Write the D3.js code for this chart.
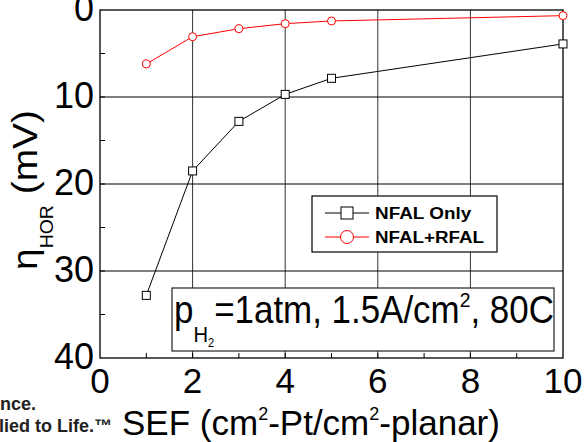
<!DOCTYPE html>
<html><head><meta charset="utf-8">
<script src="https://cdn.jsdelivr.net/npm/d3@7"></script>
<style>body{margin:0;background:#fff}svg{display:block}text{font-family:"Liberation Sans",Arial,sans-serif}</style>
</head><body>
<svg id="c" width="585" height="442"></svg>
<script>
const sefValues = [1, 2, 3, 4, 5, 10];
const nfalOnly = [32.8, 18.5, 12.8, 9.7, 7.85, 3.9];
const nfalRfal = [6.2, 3.07, 2.15, 1.57, 1.26, 0.65];
const xTicks = [0, 2, 4, 6, 8, 10];
const yTicks = [0, 10, 20, 30, 40];
const seriesNames = ["NFAL Only", "NFAL+RFAL"];

const svg = d3.select("#c");
const x = d3.scaleLinear().domain([0, 10]).range([100, 563]);
const y = d3.scaleLinear().domain([0, 40]).range([10, 358]);

// grid
svg.append("g").selectAll("line").data([2,4,6,8]).join("line")
  .attr("x1", d=>x(d)).attr("x2", d=>x(d)).attr("y1", y(0)).attr("y2", y(40))
  .attr("stroke", "#333").attr("stroke-width", 1);
svg.append("g").selectAll("line").data([10,20,30]).join("line")
  .attr("x1", x(0)).attr("x2", x(10)).attr("y1", d=>y(d)).attr("y2", d=>y(d))
  .attr("stroke", "#000").attr("stroke-width", 1);

// minor ticks
svg.append("g").selectAll("line").data(d3.range(1,10,1)).join("line")
  .attr("x1", d=>x(d)).attr("x2", d=>x(d)).attr("y1", y(40)).attr("y2", y(40)-5)
  .attr("stroke", "#000");
svg.append("g").selectAll("line").data(d3.range(5,40,5)).join("line")
  .attr("x1", x(0)).attr("x2", x(0)+5).attr("y1", d=>y(d)).attr("y2", d=>y(d))
  .attr("stroke", "#000");

// frame
svg.append("rect").attr("x", x(0)).attr("y", y(0)).attr("width", x(10)-x(0)).attr("height", y(40)-y(0))
  .attr("fill", "none").attr("stroke", "#000").attr("stroke-width", 1.3);

function fit(g, tx, ty, width, sy) {
  const bb = g.node().getBBox();
  const sx = width / bb.width;
  g.attr("transform", `translate(${tx - bb.x*sx},${ty}) scale(${sx},${sy||1})`);
}

// tick labels
svg.append("g").selectAll("text").data(xTicks).join("text")
  .attr("x", d=>x(d)).attr("y", 393).attr("text-anchor", "middle")
  .attr("font-size", 35).text(d=>d);
svg.append("g").selectAll("text").data(yTicks).join("text")
  .attr("x", 94).attr("y", d=>y(d)+11).attr("text-anchor", "end")
  .attr("font-size", 36).text(d=>d);

// annotation box
svg.append("rect").attr("x", 172).attr("y", 288).attr("width", 382).attr("height", 63)
  .attr("fill", "#fff").attr("stroke", "#222").attr("stroke-width", 1.2);
const ann = svg.append("g");
const at = ann.append("text").attr("font-size", 38);
at.append("tspan").text("p");
at.append("tspan").attr("font-size", 22).attr("dy", 19).text("H");
at.append("tspan").attr("font-size", 12).attr("dy", 5).text("2");
at.append("tspan").attr("dy", -24).text("=1atm, 1.5A/cm");
at.append("tspan").attr("font-size", 21).attr("dy", -16).text("2");
at.append("tspan").attr("dy", 16).text(", 80C");
fit(ann, 174, 323, 380);

// series lines
const line = d3.line().x((d,i)=>x(sefValues[i])).y(d=>y(d));
svg.append("path").datum(nfalOnly).attr("d", line).attr("fill", "none").attr("stroke", "#000").attr("stroke-width", 1);
svg.append("path").datum(nfalRfal).attr("d", line).attr("fill", "none").attr("stroke", "#f00").attr("stroke-width", 1);
svg.append("g").selectAll("rect").data(nfalOnly).join("rect")
  .attr("x", (d,i)=>x(sefValues[i])-4).attr("y", d=>y(d)-4).attr("width", 8).attr("height", 8)
  .attr("fill", "#fff").attr("stroke", "#000").attr("stroke-width", 1);
svg.append("g").selectAll("circle").data(nfalRfal).join("circle")
  .attr("cx", (d,i)=>x(sefValues[i])).attr("cy", d=>y(d)).attr("r", 4)
  .attr("fill", "#fff").attr("stroke", "#f00").attr("stroke-width", 1);

// legend
svg.append("rect").attr("x", 312).attr("y", 196).attr("width", 185).attr("height", 56)
  .attr("fill", "#fff").attr("stroke", "#000").attr("stroke-width", 1.2);
const legY = [213, 237];
const legColors = ["#000", "#f00"];
const legW = [97, 109];
seriesNames.forEach((name, i) => {
  svg.append("line").attr("x1", 325).attr("x2", 369).attr("y1", legY[i]).attr("y2", legY[i])
    .attr("stroke", legColors[i]).attr("stroke-width", 1);
  if (i === 0) {
    svg.append("rect").attr("x", 341).attr("y", legY[i]-6).attr("width", 12).attr("height", 12)
      .attr("fill", "#fff").attr("stroke", "#000");
  } else {
    svg.append("circle").attr("cx", 347).attr("cy", legY[i]).attr("r", 6.5)
      .attr("fill", "#fff").attr("stroke", "#f00");
  }
  const g = svg.append("g");
  g.append("text").attr("font-size", 17).attr("font-weight", "bold").text(name);
  fit(g, 375, legY[i]+6, legW[i]);
});

// x title
const xt = svg.append("g");
const xtt = xt.append("text").attr("font-size", 35);
xtt.append("tspan").text("SEF (cm");
xtt.append("tspan").attr("font-size", 18).attr("dy", -15).text("2");
xtt.append("tspan").attr("dy", 15).text("-Pt/cm");
xtt.append("tspan").attr("font-size", 18).attr("dy", -15).text("2");
xtt.append("tspan").attr("dy", 15).text("-planar)");
fit(xt, 122, 435, 378);

// y title (rotated)
const yt = svg.append("g");
const ytt = yt.append("text").attr("font-size", 36);
ytt.append("tspan").text("η");
ytt.append("tspan").attr("font-size", 18).attr("dy", 16).text("HOR");
ytt.append("tspan").attr("dy", -16).text(" (mV)");
{
  const bb = yt.node().getBBox();
  const sx = 160 / bb.width;
  yt.attr("transform", `translate(37,${270 + bb.x*sx}) rotate(-90) scale(${sx},1)`);
}

// watermark fragment (partially cut at left edge)
svg.append("text").attr("x", 36).attr("y", 410).attr("text-anchor", "end")
  .attr("font-size", 18).attr("font-weight", "bold").attr("fill", "#222").text("Science.");
svg.append("text").attr("x", 112).attr("y", 432).attr("text-anchor", "end")
  .attr("font-size", 18).attr("font-weight", "bold").attr("fill", "#222").text("Applied to Life.™");
</script>
</body></html>
